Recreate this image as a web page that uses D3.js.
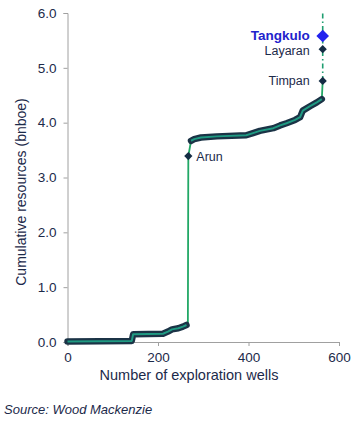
<!DOCTYPE html>
<html>
<head>
<meta charset="utf-8">
<script src="https://cdn.jsdelivr.net/npm/d3@7"></script>
<style>
  body { margin: 0; background: #fff; }
  svg text { font-family: Arial, "Liberation Sans", sans-serif; fill: #1c2a4a; }
</style>
</head>
<body>
<div id="chart"></div>
<script>
// Low cluster of small discoveries (wells, cumulative bnboe)
const lowWells  = [0, 142, 145, 211, 222, 231, 245, 255, 263]
const lowValues = [0.01, 0.02, 0.14, 0.15, 0.19, 0.23, 0.25, 0.28, 0.31]

// Cluster after Arun
const midWells  = [273, 280, 295, 330, 395, 410, 425, 455, 470, 484, 503, 514, 520, 536, 551, 562]
const midValues = [3.67, 3.70, 3.73, 3.75, 3.77, 3.81, 3.85, 3.90, 3.95, 3.99, 4.05, 4.10, 4.22, 4.30, 4.37, 4.43]

// Named discoveries
const fields      = ["Arun", "Timpan", "Layaran", "Tangkulo"]
const fieldWells  = [267, 564, 564, 564]
const fieldValues = [3.39, 4.76, 5.34, 5.58]

const yTicks = [0, 1, 2, 3, 4, 5, 6]
const xTicks = [0, 200, 400, 600]

let svg = d3.select("#chart").append("svg")
    .attr("width", 362)
    .attr("height", 422)

let x = d3.scaleLinear().domain([0, 600]).range([67.5, 339])
let y = d3.scaleLinear().domain([0, 6]).range([342, 13])

// axes
let yAxis = svg.append("g")
    .attr("transform", "translate(67.5,0)")
    .call(d3.axisLeft(y).tickValues(yTicks).tickSize(4).tickPadding(7).tickFormat(d3.format(".1f")))
let xAxis = svg.append("g")
    .attr("transform", "translate(0,342)")
    .call(d3.axisBottom(x).tickValues(xTicks).tickSize(4).tickPadding(6))
svg.selectAll(".domain, .tick line").attr("stroke", "#a0a0a0")
svg.selectAll(".tick text").style("font-size", "13.5px").style("fill", "#1c2a4a")

let low = lowWells.map((w, i) => [w, lowValues[i]])
let mid = midWells.map((w, i) => [w, midValues[i]])
let pts = fieldWells.map((w, i) => ({name: fields[i], w: w, v: fieldValues[i]}))

let line = d3.line().x(d => x(d[0])).y(d => y(d[1]))

// thin green line through everything up to Timpan
let all = low.concat([[266, lowValues[lowValues.length - 1]], [pts[0].w, pts[0].v]], mid, [[pts[1].w, pts[1].v]])
svg.append("path").attr("d", line(all))
    .attr("fill", "none").attr("stroke", "#22a866").attr("stroke-width", 1.8)

// dash-dot line above Timpan
svg.append("line")
    .attr("x1", x(564)).attr("x2", x(564))
    .attr("y1", y(fieldValues[1])).attr("y2", y(6))
    .attr("stroke", "#1f9e70").attr("stroke-width", 1.6)
    .attr("stroke-dasharray", "5,3,1.5,3")

// clusters: dark thick band with teal core
for (let seg of [low, mid]) {
    svg.append("path").attr("d", line(seg))
        .attr("fill", "none").attr("stroke", "#1b3346").attr("stroke-width", 6.5)
        .attr("stroke-linejoin", "round").attr("stroke-linecap", "round")
    svg.append("path").attr("d", line(seg))
        .attr("fill", "none").attr("stroke", "#1f9a82").attr("stroke-width", 2)
        .attr("stroke-linejoin", "round")
}

// diamonds (squares turned 45 degrees)
let sym = d3.symbol().type(d3.symbolSquare)
svg.selectAll(".field")
    .data(pts)
    .enter()
    .append("path")
    .attr("class", "field")
    .attr("transform", d => "translate(" + x(d.w) + "," + y(d.v) + ") rotate(45)")
    .attr("d", d => sym.size(d.name == "Tangkulo" ? 80 : 34)())
    .attr("fill", d => d.name == "Tangkulo" ? "#2222ee" : "#142c44")

// labels
svg.selectAll(".lab")
    .data(pts)
    .enter()
    .append("text")
    .attr("class", "lab")
    .attr("x", d => d.name == "Arun" ? x(d.w) + 8 : x(d.w) - 13)
    .attr("y", d => y(d.v) + (d.name == "Tangkulo" ? 4 : d.name == "Layaran" ? 5.5 : 4.5))
    .attr("text-anchor", d => d.name == "Arun" ? "start" : "end")
    .style("font-size", d => d.name == "Tangkulo" ? "13.5px" : "12.5px")
    .style("font-weight", d => d.name == "Tangkulo" ? "bold" : "normal")
    .style("fill", d => d.name == "Tangkulo" ? "#2222cc" : "#1c2a4a")
    .text(d => d.name)

// titles
svg.append("text")
    .attr("transform", "translate(26,192) rotate(-90)")
    .attr("text-anchor", "middle")
    .style("font-size", "14px")
    .text("Cumulative resources (bnboe)")
svg.append("text")
    .attr("x", 189).attr("y", 380)
    .attr("text-anchor", "middle")
    .style("font-size", "14.5px")
    .text("Number of exploration wells")
svg.append("text")
    .attr("x", 4).attr("y", 414)
    .style("font-size", "13px").style("font-style", "italic")
    .text("Source: Wood Mackenzie")
</script>
</body>
</html>
